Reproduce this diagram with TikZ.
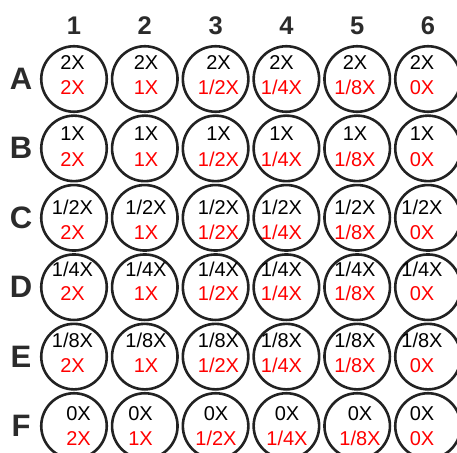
\documentclass[tikz,border=0pt]{standalone}
\usepackage{fontspec}
\setmainfont{Liberation Sans}
\definecolor{ring}{HTML}{222222}
\definecolor{lab}{HTML}{2B2B2B}
\definecolor{redtxt}{HTML}{FF0000}
\begin{document}
\begin{tikzpicture}[x=1pt,y=-1pt,
  well/.style={circle,draw=ring,line width=2.6pt,minimum size=65.5pt,inner sep=0pt},
  conc/.style={anchor=base,font=\fontsize{20}{20}\selectfont,inner sep=0pt},
  hdr/.style={font=\bfseries\fontsize{25.5}{25.5}\selectfont,text=lab,anchor=base,inner sep=0pt},
  rowlab/.style={font=\bfseries\fontsize{31}{31}\selectfont,text=lab,anchor=base,inner sep=0pt}]
\useasboundingbox (0,0) rectangle (457,452);
\clip (0,0) rectangle (457,452);
\foreach \c/\cx in {1/74,2/144.8,3/215.6,4/286.4,5/357.2,6/428}
  \node[hdr] (h-\c) at (\cx,35) {\c};
% rows A--E
\foreach \r/\ry/\by/\dy/\bl in {A/79/62/87.5/2X, B/148.4/133.5/159/1X, C/217.8/207.5/232/{1/2X}, D/287.2/269.5/293.5/{1/4X}, E/356.6/340.5/365.5/{1/8X}} {
  \node[rowlab] (row-\r) at (21,\ry+10.5) {\r};
  \foreach \c/\cx/\tx/\rl in {1/74/72.5/2X, 2/144.8/146/1X, 3/215.6/218.5/{1/2X}, 4/286.4/281.5/{1/4X}, 5/357.2/355/{1/8X}, 6/428/422/0X} {
    \node[well] (w-\r-\c) at (\cx,\ry) {};
    \node[conc] (b-\r-\c) at (\tx,\by+7.2) {\bl};
    \node[conc,text=redtxt] (d-\r-\c) at (\tx,\dy+7.2) {\rl};
  }
}
% row F
\node[rowlab] (row-F) at (21,436) {F};
\foreach \c/\cx/\tx/\rl in {1/74/78.5/2X, 2/144.8/140.5/1X, 3/215.6/216/{1/2X}, 4/286.4/287/{1/4X}, 5/357.2/360/{1/8X}, 6/428/422/0X} {
  \node[well] (w-F-\c) at (\cx,426) {};
  \node[conc] (b-F-\c) at (\tx,420.7) {0X};
  \node[conc,text=redtxt] (d-F-\c) at (\tx,445.7) {\rl};
}
\end{tikzpicture}
\end{document}
